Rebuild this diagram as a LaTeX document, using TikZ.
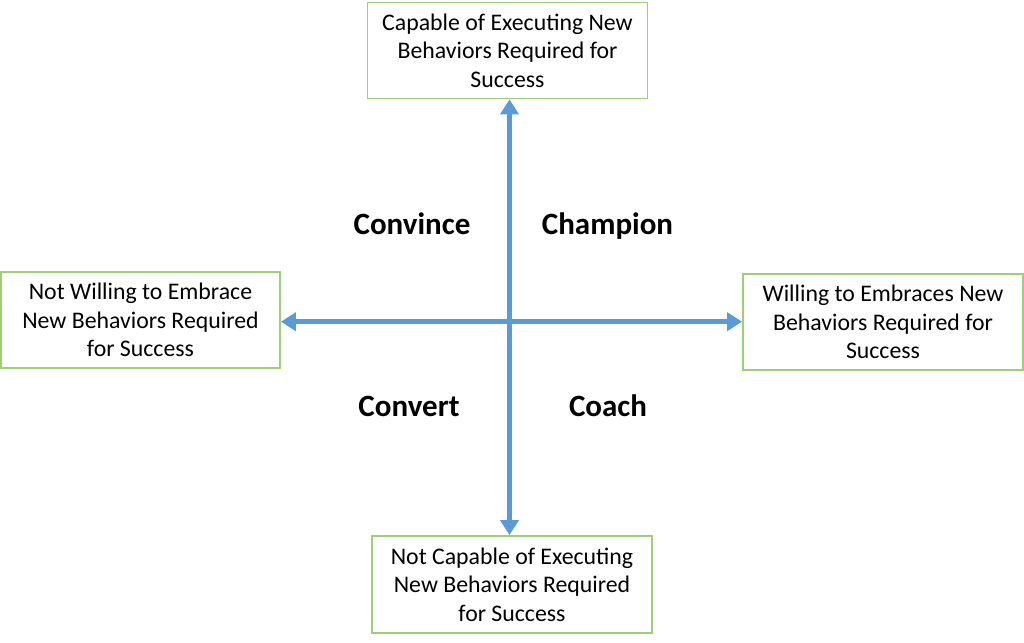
\documentclass[tikz,border=0pt]{standalone}
\usepackage{fontspec}
\setmainfont{Carlito}
\usetikzlibrary{arrows.meta}
\definecolor{boxgreen}{RGB}{160,205,120}
\definecolor{axisblue}{RGB}{91,155,213}
\tikzset{
  qbox/.style={draw=boxgreen, line width=1.8pt, fill=white, minimum width=280pt, minimum height=96pt,
    align=center, inner sep=0pt, font=\fontsize{23.8}{28.5}\selectfont},
  qlabel/.style={anchor=base, inner sep=0pt, font=\fontsize{31}{35}\selectfont\bfseries},
  axis/.style={draw=axisblue, line width=5.5pt, {Triangle[length=15pt,width=18pt]}-{Triangle[length=15pt,width=18pt]}}
}
\begin{document}
\begin{tikzpicture}[x=1pt,y=-1pt]
\useasboundingbox (0,0) rectangle (1024,642);
\coordinate (c) at (509.5,321.7);
\node[qbox] (top) at (507.5,50.5) {Capable of Executing New\\Behaviors Required for\\Success};
\node[qbox, minimum width=279pt] (left) at (140.5,320) {Not Willing to Embrace\\New Behaviors Required\\for Success};
\node[qbox] (right) at (883,322) {Willing to Embraces New\\Behaviors Required for\\Success};
\node[qbox, minimum height=97pt] (bottom) at (512,584.5) {Not Capable of Executing\\New Behaviors Required\\for Success};
\draw[axis] (top.south -| c) -- (bottom.north -| c);
\draw[axis] (left.east |- c) -- (right.west |- c);
\node[qlabel] (convince) at (412,234) {Convince};
\node[qlabel] (champion) at (607.5,234) {Champion};
\node[qlabel] (convert) at (409,416.5) {Convert};
\node[qlabel] (coach) at (608,416.5) {Coach};
\end{tikzpicture}
\end{document}
